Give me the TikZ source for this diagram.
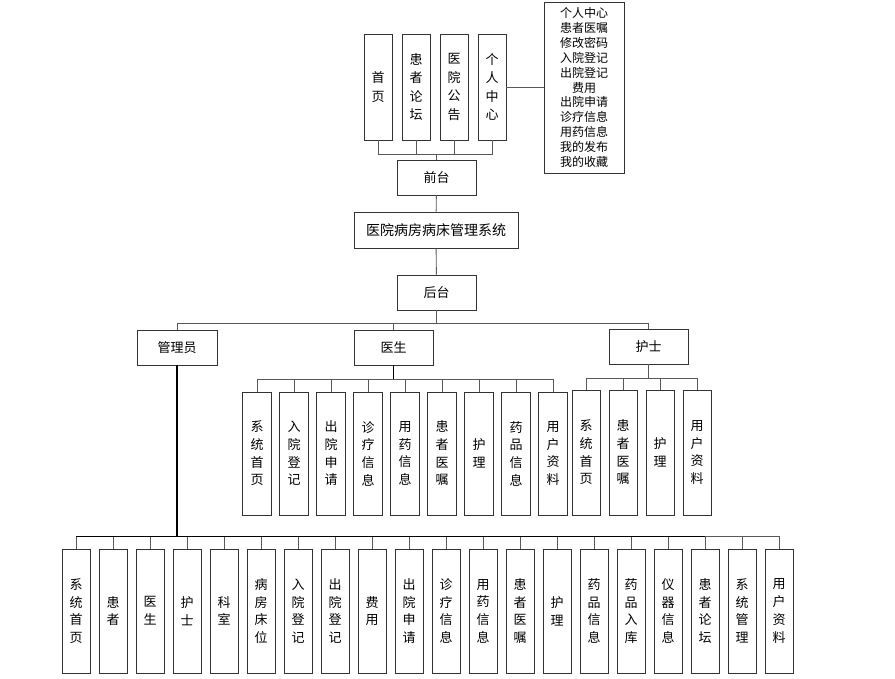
\documentclass[tikz,border=0pt]{standalone}
\usepackage{fontspec}
\setmainfont{Noto Sans CJK SC}
\usetikzlibrary{positioning}

\begin{document}
\begin{tikzpicture}[x=1pt, y=-1pt,
  box/.style={draw=black!80, line width=0.9pt, minimum width=79pt, minimum height=35pt,
              inner sep=0pt, font=\fontsize{13}{13}\selectfont},
  vbox/.style={draw=black!80, line width=0.9pt, minimum width=28pt, inner sep=0pt,
               align=center, font=\fontsize{13}{17.7}\selectfont},
  link/.style={draw=black!65, line width=0.9pt},
  trunk/.style={draw=black, line width=1.6pt},
]
  \useasboundingbox (0,0) rectangle (895,678);
  % --- front / system / back ---
  \node[box] (front) at (436.5,177.5) {前台};
  \node[box, minimum width=164pt, minimum height=36pt,
        font=\fontsize{14}{14}\selectfont] (sys) at (436,230) {医院病房病床管理系统};
  \node[box] (back) at (436.5,292.5) {后台};
  \draw[link] (front) -- (sys);
  \draw[link] (sys) -- (back);
  % --- front pages ---
  \foreach \n/\x/\txt in {home/378/{首\\页}, forum/416/{患\\者\\论\\坛},
                          notice/454/{医\\院\\公\\告}, mine/492/{个\\人\\中\\心}}{
    \node[vbox, minimum height=106pt, font=\fontsize{13}{18.5}\selectfont] (\n) at (\x,87) {\txt};
    \draw[link] (\n.south) -- ++(0,14) -| (front.north);
  }
  \node[draw=black!80, line width=0.9pt, minimum width=80pt, minimum height=171pt,
        inner sep=0pt, align=center, font=\fontsize{12}{14.9}\selectfont] (list) at (584,87.5)
        {个人中心\\患者医嘱\\修改密码\\入院登记\\出院登记\\费用\\出院申请\\诊疗信息\\用药信息\\我的发布\\我的收藏};
  \draw[link] (mine.east) -- (list.west |- mine.east);
  % --- roles ---
  \node[box, minimum width=80pt] (admin) at (177,347.5) {管理员};
  \node[box] (doctor) at (393.5,347.5) {医生};
  \node[box] (nurse) at (648.5,346.5) {护士};
  \foreach \n in {admin, doctor, nurse}
    \draw[link] (back.south) -- ++(0,13) -| (\n.north);
  % --- doctor pages ---
  \foreach \txt [count=\i] in {{系\\统\\首\\页}, {入\\院\\登\\记}, {出\\院\\申\\请}, {诊\\疗\\信\\息},
                               {用\\药\\信\\息}, {患\\者\\医\\嘱}, {护\\理}, {药\\品\\信\\息}, {用\\户\\资\\料}}{
    \node[vbox, minimum width=29pt, minimum height=123pt] (d\i) at ({220+37*\i},453.5) {\txt};
    \draw[link] (doctor.south) -- ++(0,14) -| (d\i.north);
  }
  \draw[trunk] (doctor.south) -- ++(0,14);
  % --- nurse pages ---
  \foreach \txt [count=\i] in {{系\\统\\首\\页}, {患\\者\\医\\嘱}, {护\\理}, {用\\户\\资\\料}}{
    \node[vbox, minimum height=125pt] (n\i) at ({549+37*\i},452.5) {\txt};
    \draw[link] (nurse.south) -- ++(0,14) -| (n\i.north);
  }
  % --- admin pages ---
  \foreach \txt [count=\i] in {{系\\统\\首\\页}, {患\\者}, {医\\生}, {护\\士}, {科\\室}, {病\\房\\床\\位},
                               {入\\院\\登\\记}, {出\\院\\登\\记}, {费\\用}, {出\\院\\申\\请}, {诊\\疗\\信\\息},
                               {用\\药\\信\\息}, {患\\者\\医\\嘱}, {护\\理}, {药\\品\\信\\息}, {药\\品\\入\\库},
                               {仪\\器\\信\\息}, {患\\者\\论\\坛}, {系\\统\\管\\理}, {用\\户\\资\\料}}{
    \node[vbox, minimum height=124pt] (a\i) at ({39+37*\i},611) {\txt};
    \draw[link] (admin.south) -- ++(0,171) -| (a\i.north);
  }
  \draw[trunk] (admin.south) -- ++(0,171) coordinate (abus);
  \draw[trunk] (a1.north |- abus) -- (a18.north |- abus);
\end{tikzpicture}
\end{document}
